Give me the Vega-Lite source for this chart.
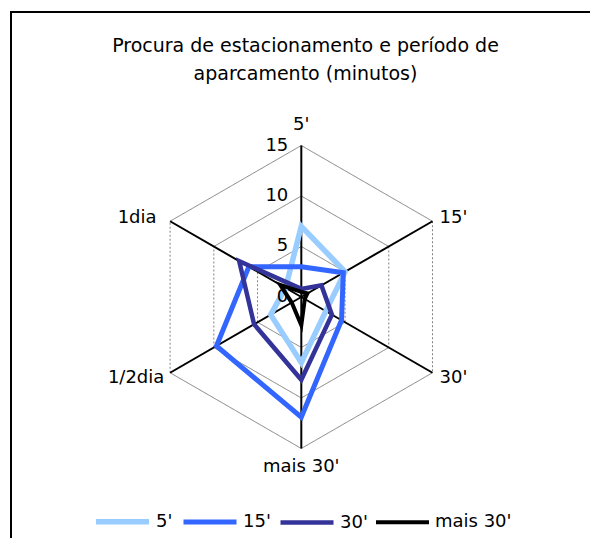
{
  "$schema": "https://vega.github.io/schema/vega-lite/v6.json",
  "width": 589,
  "height": 540,
  "autosize": {"type": "none"},
  "padding": {"left": 11, "top": 12, "right": 0, "bottom": 0},
  "background": "white",
  "title": {
    "text": ["Procura de estacionamento e período de", "aparcamento (minutos)"],
    "font": "DejaVu Sans",
    "fontSize": 19,
    "fontWeight": "normal",
    "color": "#000000",
    "anchor": "middle",
    "lineHeight": 28,
    "offset": -72
  },
  "config": {
    "view": {"stroke": "#000000", "strokeWidth": 2},
    "font": "DejaVu Sans",
    "text": {"font": "DejaVu Sans", "fontSize": 18, "color": "#000000"}
  },
  "datasets": {
    "series": [
      {"s": "5'", "cat": "5'", "i": 0, "v": 7},
      {"s": "5'", "cat": "15'", "i": 1, "v": 5},
      {"s": "5'", "cat": "30'", "i": 2, "v": 2.8},
      {"s": "5'", "cat": "mais 30'", "i": 3, "v": 6.5},
      {"s": "5'", "cat": "1/2dia", "i": 4, "v": 3.5},
      {"s": "5'", "cat": "1dia", "i": 5, "v": 1.8},
      {"s": "15'", "cat": "5'", "i": 0, "v": 3},
      {"s": "15'", "cat": "15'", "i": 1, "v": 4.8},
      {"s": "15'", "cat": "30'", "i": 2, "v": 4.6},
      {"s": "15'", "cat": "mais 30'", "i": 3, "v": 11.9},
      {"s": "15'", "cat": "1/2dia", "i": 4, "v": 9.7},
      {"s": "15'", "cat": "1dia", "i": 5, "v": 6},
      {"s": "30'", "cat": "5'", "i": 0, "v": 0.8},
      {"s": "30'", "cat": "15'", "i": 1, "v": 2.3},
      {"s": "30'", "cat": "30'", "i": 2, "v": 3.5},
      {"s": "30'", "cat": "mais 30'", "i": 3, "v": 8.2},
      {"s": "30'", "cat": "1/2dia", "i": 4, "v": 5.4},
      {"s": "30'", "cat": "1dia", "i": 5, "v": 7.1},
      {"s": "mais 30'", "cat": "5'", "i": 0, "v": 0.5},
      {"s": "mais 30'", "cat": "15'", "i": 1, "v": 0.7},
      {"s": "mais 30'", "cat": "30'", "i": 2, "v": 0.4},
      {"s": "mais 30'", "cat": "mais 30'", "i": 3, "v": 2.8},
      {"s": "mais 30'", "cat": "1/2dia", "i": 4, "v": 1.1},
      {"s": "mais 30'", "cat": "1dia", "i": 5, "v": 2.4}
    ],
    "axes": [
      {"cat": "5'", "i": 0},
      {"cat": "15'", "i": 1},
      {"cat": "30'", "i": 2},
      {"cat": "mais 30'", "i": 3},
      {"cat": "1/2dia", "i": 4},
      {"cat": "1dia", "i": 5}
    ],
    "grid": [
      {"level": 5, "i": 0}, {"level": 5, "i": 1}, {"level": 5, "i": 2},
      {"level": 5, "i": 3}, {"level": 5, "i": 4}, {"level": 5, "i": 5},
      {"level": 10, "i": 0}, {"level": 10, "i": 1}, {"level": 10, "i": 2},
      {"level": 10, "i": 3}, {"level": 10, "i": 4}, {"level": 10, "i": 5},
      {"level": 15, "i": 0}, {"level": 15, "i": 1}, {"level": 15, "i": 2},
      {"level": 15, "i": 3}, {"level": 15, "i": 4}, {"level": 15, "i": 5}
    ],
    "ticks": [
      {"t": "0", "v": 0},
      {"t": "5", "v": 5},
      {"t": "10", "v": 10},
      {"t": "15", "v": 15}
    ]
  },
  "encoding": {
    "x": {"field": "x", "type": "quantitative", "scale": {"domain": [-28.743, 29.574], "nice": false, "zero": false}, "axis": null},
    "y": {"field": "y", "type": "quantitative", "scale": {"domain": [-25.248, 28.218], "nice": false, "zero": false}, "axis": null}
  },
  "layer": [
    {
      "data": {"name": "grid"},
      "transform": [
        {"calculate": "PI/2 - datum.i*PI/3", "as": "a"},
        {"calculate": "datum.a - PI/3", "as": "b"},
        {"calculate": "datum.level*cos(datum.a)", "as": "x"},
        {"calculate": "datum.level*sin(datum.a)", "as": "y"},
        {"calculate": "datum.level*cos(datum.b)", "as": "xe"},
        {"calculate": "datum.level*sin(datum.b)", "as": "ye"}
      ],
      "mark": {"type": "rule", "color": "#808080", "strokeWidth": 1},
      "encoding": {
        "x2": {"field": "xe"},
        "y2": {"field": "ye"},
        "strokeDash": {"condition": {"test": "datum.i == 1 || datum.i == 4", "value": [2, 2]}, "value": [1, 0]}
      }
    },
    {
      "data": {"name": "axes"},
      "transform": [
        {"calculate": "PI/2 - datum.i*PI/3", "as": "a"},
        {"calculate": "15*cos(datum.a)", "as": "x"},
        {"calculate": "15*sin(datum.a)", "as": "y"}
      ],
      "mark": {"type": "rule", "color": "#000000", "strokeWidth": 2},
      "encoding": {
        "x2": {"datum": 0},
        "y2": {"datum": 0}
      }
    },
    {
      "data": {"name": "series"},
      "transform": [
        {"calculate": "PI/2 - datum.i*PI/3", "as": "a"},
        {"calculate": "datum.v*cos(datum.a)", "as": "x"},
        {"calculate": "datum.v*sin(datum.a)", "as": "y"}
      ],
      "mark": {"type": "line", "interpolate": "linear-closed", "strokeJoin": "miter"},
      "encoding": {
        "color": {
          "field": "s",
          "type": "nominal",
          "scale": {"domain": ["5'", "15'", "30'", "mais 30'"], "range": ["#99CCFF", "#3366FF", "#333399", "#000000"]},
          "legend": {
            "title": null,
            "orient": "none",
            "direction": "horizontal",
            "legendX": 82,
            "legendY": 480,
            "symbolType": "stroke",
            "symbolSize": 2809,
            "symbolStrokeWidth": 4,
            "labelFont": "DejaVu Sans",
            "labelFontSize": 18,
            "labelColor": "#000000",
            "labelOffset": 4,
            "columnPadding": 0,
            "encode": {
              "symbols": {
                "update": {
                  "strokeWidth": {"signal": "datum.value === \"5'\" ? 5.5 : 4"}
                }
              }
            }
          }
        },
        "strokeWidth": {
          "field": "s",
          "type": "nominal",
          "scale": {"domain": ["5'", "15'", "30'", "mais 30'"], "range": [5.5, 4, 4, 4]},
          "legend": null
        },
        "order": {"field": "i", "type": "quantitative"}
      }
    },
    {
      "data": {"name": "ticks"},
      "transform": [
        {"calculate": "0", "as": "x"},
        {"calculate": "datum.v", "as": "y"}
      ],
      "mark": {"type": "text", "align": "right", "baseline": "middle", "dx": -13, "fontSize": 18},
      "encoding": {"text": {"field": "t"}}
    },
    {
      "data": {"name": "axes"},
      "transform": [
        {"filter": "datum.i == 0"},
        {"calculate": "PI/2 - datum.i*PI/3", "as": "a"},
        {"calculate": "15*cos(datum.a)", "as": "x"},
        {"calculate": "15*sin(datum.a)", "as": "y"}
      ],
      "mark": {"type": "text", "align": "center", "baseline": "middle", "dy": -21, "fontSize": 18},
      "encoding": {"text": {"field": "cat"}}
    },
    {
      "data": {"name": "axes"},
      "transform": [
        {"filter": "datum.i == 3"},
        {"calculate": "PI/2 - datum.i*PI/3", "as": "a"},
        {"calculate": "15*cos(datum.a)", "as": "x"},
        {"calculate": "15*sin(datum.a)", "as": "y"}
      ],
      "mark": {"type": "text", "align": "center", "baseline": "middle", "dy": 19, "fontSize": 18},
      "encoding": {"text": {"field": "cat"}}
    },
    {
      "data": {"name": "axes"},
      "transform": [
        {"filter": "datum.i == 1"},
        {"calculate": "PI/2 - datum.i*PI/3", "as": "a"},
        {"calculate": "15*cos(datum.a)", "as": "x"},
        {"calculate": "15*sin(datum.a)", "as": "y"}
      ],
      "mark": {"type": "text", "align": "center", "baseline": "middle", "dx": 21, "dy": -3, "fontSize": 18},
      "encoding": {"text": {"field": "cat"}}
    },
    {
      "data": {"name": "axes"},
      "transform": [
        {"filter": "datum.i == 2"},
        {"calculate": "PI/2 - datum.i*PI/3", "as": "a"},
        {"calculate": "15*cos(datum.a)", "as": "x"},
        {"calculate": "15*sin(datum.a)", "as": "y"}
      ],
      "mark": {"type": "text", "align": "center", "baseline": "middle", "dx": 21, "dy": 5, "fontSize": 18},
      "encoding": {"text": {"field": "cat"}}
    },
    {
      "data": {"name": "axes"},
      "transform": [
        {"filter": "datum.i == 4"},
        {"calculate": "PI/2 - datum.i*PI/3", "as": "a"},
        {"calculate": "15*cos(datum.a)", "as": "x"},
        {"calculate": "15*sin(datum.a)", "as": "y"}
      ],
      "mark": {"type": "text", "align": "center", "baseline": "middle", "dx": -34, "dy": 5, "fontSize": 18},
      "encoding": {"text": {"field": "cat"}}
    },
    {
      "data": {"name": "axes"},
      "transform": [
        {"filter": "datum.i == 5"},
        {"calculate": "PI/2 - datum.i*PI/3", "as": "a"},
        {"calculate": "15*cos(datum.a)", "as": "x"},
        {"calculate": "15*sin(datum.a)", "as": "y"}
      ],
      "mark": {"type": "text", "align": "center", "baseline": "middle", "dx": -33, "dy": -3, "fontSize": 18},
      "encoding": {"text": {"field": "cat"}}
    }
  ]
}
